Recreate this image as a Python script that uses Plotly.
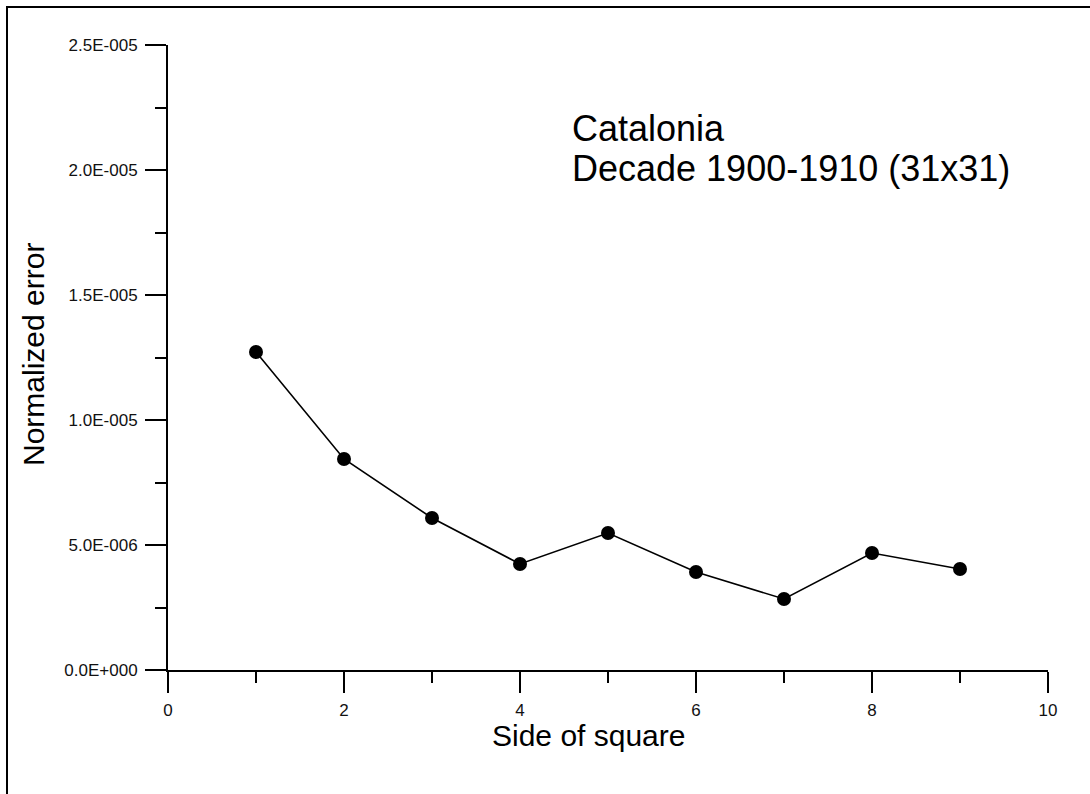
import plotly.graph_objects as go

# Normalized error versus side of the averaging square
side = [1, 2, 3, 4, 5, 6, 7, 8, 9]
norm_error = [1.272e-5, 8.44e-6, 6.08e-6, 4.24e-6, 5.48e-6, 3.92e-6, 2.84e-6, 4.68e-6, 4.04e-6]

# Axis tick positions and labels
y_tickvals = [0, 5e-6, 1e-5, 1.5e-5, 2e-5, 2.5e-5]
y_ticktext = ["0.0E+000", "5.0E-006", "1.0E-005", "1.5E-005", "2.0E-005", "2.5E-005"]
x_tickvals = [0, 2, 4, 6, 8, 10]
x_ticktext = ["0", "2", "4", "6", "8", "10"]

FONT = "Liberation Sans, Arial, sans-serif"
W, H = 1090, 794
L, R, T, B = 168, 42, 45, 124
PW, PH = W - L - R, H - T - B


def px(x):
    return (x - L) / PW


def py(y):
    return (H - B - y) / PH


fig = go.Figure()
fig.add_trace(go.Scatter(
    x=side, y=norm_error, mode="lines+markers",
    line=dict(color="black", width=1.6),
    marker=dict(color="black", size=14),
    showlegend=False,
))

fig.update_xaxes(
    range=[0, 10], showgrid=False, zeroline=False,
    showline=True, linecolor="black", linewidth=2,
    tickvals=x_tickvals, ticktext=x_ticktext,
    ticks="outside", ticklen=21, tickwidth=2, tickcolor="black",
    minor=dict(dtick=1, ticks="outside", ticklen=11, tickwidth=2, tickcolor="black"),
    tickfont=dict(family=FONT, size=17, color="#111"),
    ticklabelstandoff=3,
)
fig.update_yaxes(
    range=[0, 2.5e-5], showgrid=False, zeroline=False,
    showline=True, linecolor="black", linewidth=2,
    tickvals=y_tickvals, ticktext=y_ticktext,
    ticks="outside", ticklen=21, tickwidth=2, tickcolor="black",
    minor=dict(dtick=2.5e-6, ticks="outside", ticklen=11, tickwidth=2, tickcolor="black"),
    tickfont=dict(family=FONT, size=17, color="#111"),
    ticklabelstandoff=4,
)

annotations = [
    dict(text="Side of square", x=px(588), y=py(735), xanchor="center", yanchor="middle",
         font=dict(family=FONT, size=30, color="black")),
    dict(text="Normalized error", x=px(33), y=py(355), xanchor="center", yanchor="middle",
         textangle=-90, font=dict(family=FONT, size=30, color="black")),
    dict(text="Catalonia", x=px(570), y=py(128), xanchor="left", yanchor="middle",
         font=dict(family=FONT, size=36, color="black")),
    dict(text="Decade 1900-1910 (31x31)", x=px(570), y=py(168), xanchor="left", yanchor="middle",
         font=dict(family=FONT, size=36, color="black")),
]
for a in annotations:
    a.update(xref="paper", yref="paper", showarrow=False)

fig.update_layout(
    width=W, height=H,
    margin=dict(l=L, r=R, t=T, b=B, pad=0),
    paper_bgcolor="white", plot_bgcolor="white",
    annotations=annotations,
    shapes=[dict(type="rect", xref="paper", yref="paper",
                 x0=px(7), x1=px(W + 20), y0=py(H + 20), y1=py(7),
                 line=dict(color="black", width=2), fillcolor="rgba(0,0,0,0)", layer="below")],
)

fig.write_html("out.html")
